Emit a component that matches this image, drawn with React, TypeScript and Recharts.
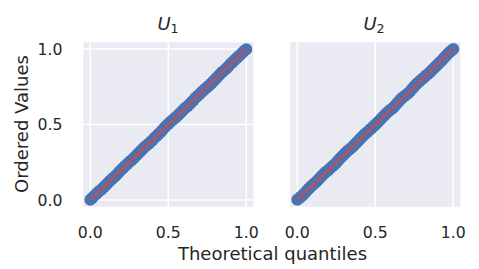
import { CartesianGrid, Scatter, ScatterChart, XAxis, YAxis } from 'recharts'

// Theoretical quantiles (shared by both panels)
const quantiles = [
  0, 0.0125, 0.025, 0.0375, 0.05, 0.0625, 0.075, 0.0875, 0.1, 0.1125, 0.125, 0.1375,
  0.15, 0.1625, 0.175, 0.1875, 0.2, 0.2125, 0.225, 0.2375, 0.25, 0.2625, 0.275, 0.2875,
  0.3, 0.3125, 0.325, 0.3375, 0.35, 0.3625, 0.375, 0.3875, 0.4, 0.4125, 0.425, 0.4375,
  0.45, 0.4625, 0.475, 0.4875, 0.5, 0.5125, 0.525, 0.5375, 0.55, 0.5625, 0.575, 0.5875,
  0.6, 0.6125, 0.625, 0.6375, 0.65, 0.6625, 0.675, 0.6875, 0.7, 0.7125, 0.725, 0.7375,
  0.75, 0.7625, 0.775, 0.7875, 0.8, 0.8125, 0.825, 0.8375, 0.85, 0.8625, 0.875, 0.8875,
  0.9, 0.9125, 0.925, 0.9375, 0.95, 0.9625, 0.975, 0.9875, 1,
]

// Ordered sample values
const u1Values = [
  0.001, 0.013, 0.027, 0.039, 0.051, 0.062, 0.073, 0.086, 0.099, 0.113, 0.126, 0.137,
  0.149, 0.161, 0.173, 0.188, 0.202, 0.214, 0.226, 0.238, 0.251, 0.262, 0.273, 0.286,
  0.299, 0.313, 0.326, 0.339, 0.352, 0.362, 0.372, 0.386, 0.398, 0.412, 0.424, 0.437,
  0.449, 0.464, 0.478, 0.491, 0.504, 0.517, 0.528, 0.538, 0.549, 0.561, 0.574, 0.588,
  0.601, 0.612, 0.623, 0.636, 0.649, 0.663, 0.677, 0.689, 0.701, 0.714, 0.726, 0.737,
  0.748, 0.759, 0.772, 0.785, 0.798, 0.812, 0.826, 0.839, 0.851, 0.862, 0.874, 0.888,
  0.902, 0.914, 0.927, 0.939, 0.951, 0.963, 0.976, 0.988, 0.999,
]
const u2Values = [
  0.001, 0.011, 0.023, 0.035, 0.048, 0.062, 0.076, 0.089, 0.101, 0.112, 0.124, 0.138,
  0.152, 0.165, 0.178, 0.189, 0.199, 0.211, 0.223, 0.234, 0.247, 0.261, 0.276, 0.29,
  0.303, 0.315, 0.327, 0.338, 0.348, 0.361, 0.374, 0.388, 0.402, 0.415, 0.428, 0.44,
  0.451, 0.463, 0.474, 0.486, 0.498, 0.511, 0.524, 0.538, 0.552, 0.565, 0.578, 0.589,
  0.599, 0.61, 0.622, 0.637, 0.653, 0.666, 0.679, 0.689, 0.698, 0.709, 0.722, 0.737,
  0.752, 0.766, 0.779, 0.79, 0.801, 0.812, 0.824, 0.835, 0.846, 0.859, 0.872, 0.885,
  0.898, 0.911, 0.923, 0.938, 0.953, 0.966, 0.978, 0.989, 1.0,
]

// fitted reference line end points
const fitX = [0, 1]
const fitY = [0, 1]

const ticks = [0, 0.5, 1]

const FONT = 'DejaVu Sans'
const TEXT = '#262626'
const BLUE = '#4c72b0'
const RED = '#c44e52'

const dot = (p: any) => <circle cx={p.cx} cy={p.cy} r={6} fill={BLUE} />
const noDot = () => <g />

function Panel({ values, showY }: { values: number[]; showY: boolean }) {
  const pts = quantiles.map((q, i) => ({ x: q, y: values[i] }))
  const line = fitX.map((x, i) => ({ x, y: fitY[i] }))
  const tick = { fontFamily: FONT, fontSize: 15.7, fill: TEXT }

  return (
    <ScatterChart width={260} height={269} margin={{ top: 41.5, right: 5.9, bottom: 31.5, left: 0 }}>
      <CartesianGrid fill="#eaeaf2" stroke="#ffffff" strokeWidth={1.5} strokeOpacity={1} />
      <XAxis
        type="number"
        dataKey="x"
        domain={[-0.05, 1.05]}
        ticks={ticks}
        tickFormatter={(v: number) => v.toFixed(1)}
        axisLine={false}
        tickLine={false}
        tickSize={0}
        tickMargin={19.5}
        height={30}
        tick={tick}
      />
      <YAxis
        type="number"
        dataKey="y"
        domain={[-0.05, 1.05]}
        ticks={ticks}
        tickFormatter={(v: number) => v.toFixed(1)}
        axisLine={false}
        tickLine={false}
        tickSize={0}
        tickMargin={20}
        width={82.5}
        tick={showY ? tick : false}
      />
      <Scatter data={pts} shape={dot} isAnimationActive={false} />
      <Scatter data={line} shape={noDot} line={{ stroke: RED, strokeWidth: 2 }} isAnimationActive={false} />
    </ScatterChart>
  )
}

export default function App() {
  return (
    <div style={{ position: 'absolute', left: 0, top: 0, width: 479, height: 269, background: '#fff' }}>
      <div style={{ position: 'absolute', left: 0, top: 0 }}>
        <Panel values={u1Values} showY />
      </div>
      <div style={{ position: 'absolute', left: 206.75, top: 0 }}>
        <Panel values={u2Values} showY={false} />
      </div>
      <svg
        width={479}
        height={269}
        style={{ position: 'absolute', left: 0, top: 0, pointerEvents: 'none' }}
        fontFamily={FONT}
        fill={TEXT}
      >
        <text x={168} y={30} fontSize={18} textAnchor="middle">
          <tspan fontStyle="italic">U</tspan>
          <tspan fontSize={12.6} dy={3}>1</tspan>
        </text>
        <text x={374} y={30} fontSize={18} textAnchor="middle">
          <tspan fontStyle="italic">U</tspan>
          <tspan fontSize={12.6} dy={3}>2</tspan>
        </text>
        <text x={272.5} y={260} fontSize={18} textAnchor="middle">
          Theoretical quantiles
        </text>
        <text x={28} y={124} fontSize={18} textAnchor="middle" transform="rotate(-90 28 124)">
          Ordered Values
        </text>
      </svg>
    </div>
  )
}
